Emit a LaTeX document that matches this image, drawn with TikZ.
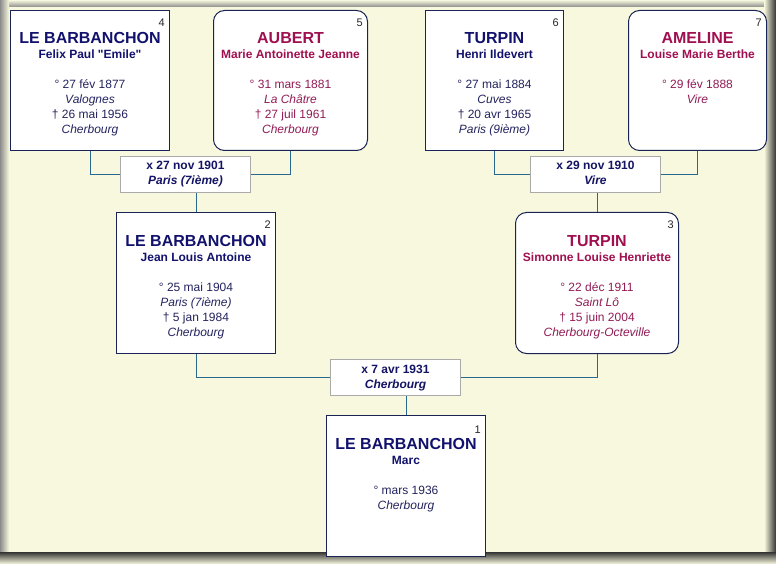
\documentclass[tikz,border=0pt]{standalone}
\usepackage{fontspec}
\setmainfont{Liberation Sans}
\newfontfamily\qfont{Liberation Sans}
\usetikzlibrary{calc}
\definecolor{bg}{RGB}{248,248,222}
\definecolor{mname}{RGB}{18,18,110}
\definecolor{mtext}{RGB}{35,35,95}
\definecolor{fname}{RGB}{160,16,80}
\definecolor{ftext}{RGB}{145,28,85}
\definecolor{boxline}{RGB}{25,35,85}
\definecolor{connc}{RGB}{40,105,145}
\definecolor{mline}{RGB}{170,170,170}
\definecolor{mtxt}{RGB}{20,20,100}
\tikzset{
 pbox/.style={draw=boxline, line width=1pt, fill=white, anchor=north west, inner sep=0pt},
 fbox/.style={pbox, rounded corners=11pt},
 mbox/.style={draw=mline, line width=1pt, fill=white, anchor=north west, inner sep=0pt, minimum width=130pt, minimum height=36pt},
 conn/.style={draw=connc, line width=1pt},
 surname/.style={anchor=base, inner sep=0pt, font=\fontsize{16}{16}\selectfont\bfseries},
 given/.style={anchor=base, inner sep=0pt, font=\fontsize{12}{12}\selectfont\bfseries},
 det/.style={anchor=base, inner sep=0pt, font=\fontsize{12}{12}\selectfont},
 deti/.style={anchor=base, inner sep=0pt, font=\fontsize{12}{12}\selectfont\itshape},
 num/.style={anchor=base east, inner sep=0pt, font=\fontsize{11}{11}\selectfont, text=black!85},
 mar/.style={anchor=base, inner sep=0pt, text=mtxt, font=\fontsize{12}{12}\selectfont\bfseries},
 mari/.style={anchor=base, inner sep=0pt, text=mtxt, font=\fontsize{12}{12}\selectfont\bfseries\itshape},
}
\begin{document}
\begin{tikzpicture}[x=1pt,y=-1pt]
\useasboundingbox (0,0) rectangle (776,564);
\fill[bg] (0,0) rectangle (776,564);
\shade[bottom color=black!45, top color=bg] (0,0) rectangle (776,7);
\shade[left color=black!45, right color=bg] (0,0) rectangle (9,564);
\shade[left color=bg, right color=black!80] (764,0) rectangle (776,564);
\shade[bottom color=bg, top color=black!80] (0,552) rectangle (776,564);

% boxes
\node[pbox, minimum width=159pt, minimum height=140pt] (p4) at (10,10) {};
\node[fbox, minimum width=154pt, minimum height=140pt] (p5) at (213,10) {};
\node[pbox, minimum width=138pt, minimum height=140pt] (p6) at (425,10) {};
\node[fbox, minimum width=138pt, minimum height=140pt] (p7) at (628,10) {};
\node[mbox] (m1) at (120,156) {};
\node[mbox] (m2) at (530,156) {};
\node[pbox, minimum width=159pt, minimum height=141pt] (p2) at (116,212) {};
\node[fbox, minimum width=163pt, minimum height=141pt] (p3) at (515,212) {};
\node[mbox] (m3) at (330,359) {};
\node[pbox, minimum width=159pt, minimum height=141pt] (p1) at (326,415) {};

% connectors
\draw[conn] (p4.south) |- (m1.west);
\draw[conn] (p5.south) |- (m1.east);
\draw[conn] (p2.north) -- (p2.north |- m1.south);
\draw[conn] (p6.south) |- (m2.west);
\draw[conn] (p7.south) |- (m2.east);
\draw[conn] (p3.north) -- (p3.north |- m2.south);
\draw[conn] (p2.south) |- (m3.west);
\draw[conn] (p3.south) |- (m3.east);
\draw[conn] (p1.north) -- (p1.north |- m3.south);

% person 4
\node[num] (p4n) at ($(p4.north east)+(-5,17)$) {4};
\node[surname, text=mname] (p4s) at ($(p4.north)+(0,34)$) {LE BARBANCHON};
\node[given, text=mname] (p4g) at ($(p4.north)+(0,49)$) {Felix Paul {\qfont"}Emile{\qfont"}};
\node[det, text=mtext] (p4b) at ($(p4.north)+(0,79)$) {° 27 fév 1877};
\node[deti, text=mtext] (p4bp) at ($(p4.north)+(0,94)$) {Valognes};
\node[det, text=mtext] (p4d) at ($(p4.north)+(0,109)$) {† 26 mai 1956};
\node[deti, text=mtext] (p4dp) at ($(p4.north)+(0,124)$) {Cherbourg};

% person 5
\node[num] (p5n) at ($(p5.north east)+(-5,17)$) {5};
\node[surname, text=fname] (p5s) at ($(p5.north)+(0,34)$) {AUBERT};
\node[given, text=fname] (p5g) at ($(p5.north)+(0,49)$) {Marie Antoinette Jeanne};
\node[det, text=ftext] (p5b) at ($(p5.north)+(0,79)$) {° 31 mars 1881};
\node[deti, text=ftext] (p5bp) at ($(p5.north)+(0,94)$) {La Châtre};
\node[det, text=ftext] (p5d) at ($(p5.north)+(0,109)$) {† 27 juil 1961};
\node[deti, text=ftext] (p5dp) at ($(p5.north)+(0,124)$) {Cherbourg};

% person 6
\node[num] (p6n) at ($(p6.north east)+(-5,17)$) {6};
\node[surname, text=mname] (p6s) at ($(p6.north)+(0,34)$) {TURPIN};
\node[given, text=mname] (p6g) at ($(p6.north)+(0,49)$) {Henri Ildevert};
\node[det, text=mtext] (p6b) at ($(p6.north)+(0,79)$) {° 27 mai 1884};
\node[deti, text=mtext] (p6bp) at ($(p6.north)+(0,94)$) {Cuves};
\node[det, text=mtext] (p6d) at ($(p6.north)+(0,109)$) {† 20 avr 1965};
\node[deti, text=mtext] (p6dp) at ($(p6.north)+(0,124)$) {Paris (9ième)};

% person 7
\node[num] (p7n) at ($(p7.north east)+(-5,17)$) {7};
\node[surname, text=fname] (p7s) at ($(p7.north)+(0,34)$) {AMELINE};
\node[given, text=fname] (p7g) at ($(p7.north)+(0,49)$) {Louise Marie Berthe};
\node[det, text=ftext] (p7b) at ($(p7.north)+(0,79)$) {° 29 fév 1888};
\node[deti, text=ftext] (p7bp) at ($(p7.north)+(0,94)$) {Vire};

% marriages
\node[mar] (m1a) at ($(m1.north)+(0,14)$) {x 27 nov 1901};
\node[mari] (m1b) at ($(m1.north)+(0,29)$) {Paris (7ième)};
\node[mar] (m2a) at ($(m2.north)+(0,14)$) {x 29 nov 1910};
\node[mari] (m2b) at ($(m2.north)+(0,29)$) {Vire};
\node[mar] (m3a) at ($(m3.north)+(0,14)$) {x 7 avr 1931};
\node[mari] (m3b) at ($(m3.north)+(0,29)$) {Cherbourg};

% person 2
\node[num] (p2n) at ($(p2.north east)+(-5,17)$) {2};
\node[surname, text=mname] (p2s) at ($(p2.north)+(0,34)$) {LE BARBANCHON};
\node[given, text=mname] (p2g) at ($(p2.north)+(0,49)$) {Jean Louis Antoine};
\node[det, text=mtext] (p2b) at ($(p2.north)+(0,79)$) {° 25 mai 1904};
\node[deti, text=mtext] (p2bp) at ($(p2.north)+(0,94)$) {Paris (7ième)};
\node[det, text=mtext] (p2d) at ($(p2.north)+(0,109)$) {† 5 jan 1984};
\node[deti, text=mtext] (p2dp) at ($(p2.north)+(0,124)$) {Cherbourg};

% person 3
\node[num] (p3n) at ($(p3.north east)+(-5,17)$) {3};
\node[surname, text=fname] (p3s) at ($(p3.north)+(0,34)$) {TURPIN};
\node[given, text=fname] (p3g) at ($(p3.north)+(0,49)$) {Simonne Louise Henriette};
\node[det, text=ftext] (p3b) at ($(p3.north)+(0,79)$) {° 22 déc 1911};
\node[deti, text=ftext] (p3bp) at ($(p3.north)+(0,94)$) {Saint Lô};
\node[det, text=ftext] (p3d) at ($(p3.north)+(0,109)$) {† 15 juin 2004};
\node[deti, text=ftext] (p3dp) at ($(p3.north)+(0,124)$) {Cherbourg-Octeville};

% person 1
\node[num] (p1n) at ($(p1.north east)+(-5,18)$) {1};
\node[surname, text=mname] (p1s) at ($(p1.north)+(0,34)$) {LE BARBANCHON};
\node[given, text=mname] (p1g) at ($(p1.north)+(0,49)$) {Marc};
\node[det, text=mtext] (p1b) at ($(p1.north)+(0,79)$) {° mars 1936};
\node[deti, text=mtext] (p1bp) at ($(p1.north)+(0,94)$) {Cherbourg};
\end{tikzpicture}
\end{document}
